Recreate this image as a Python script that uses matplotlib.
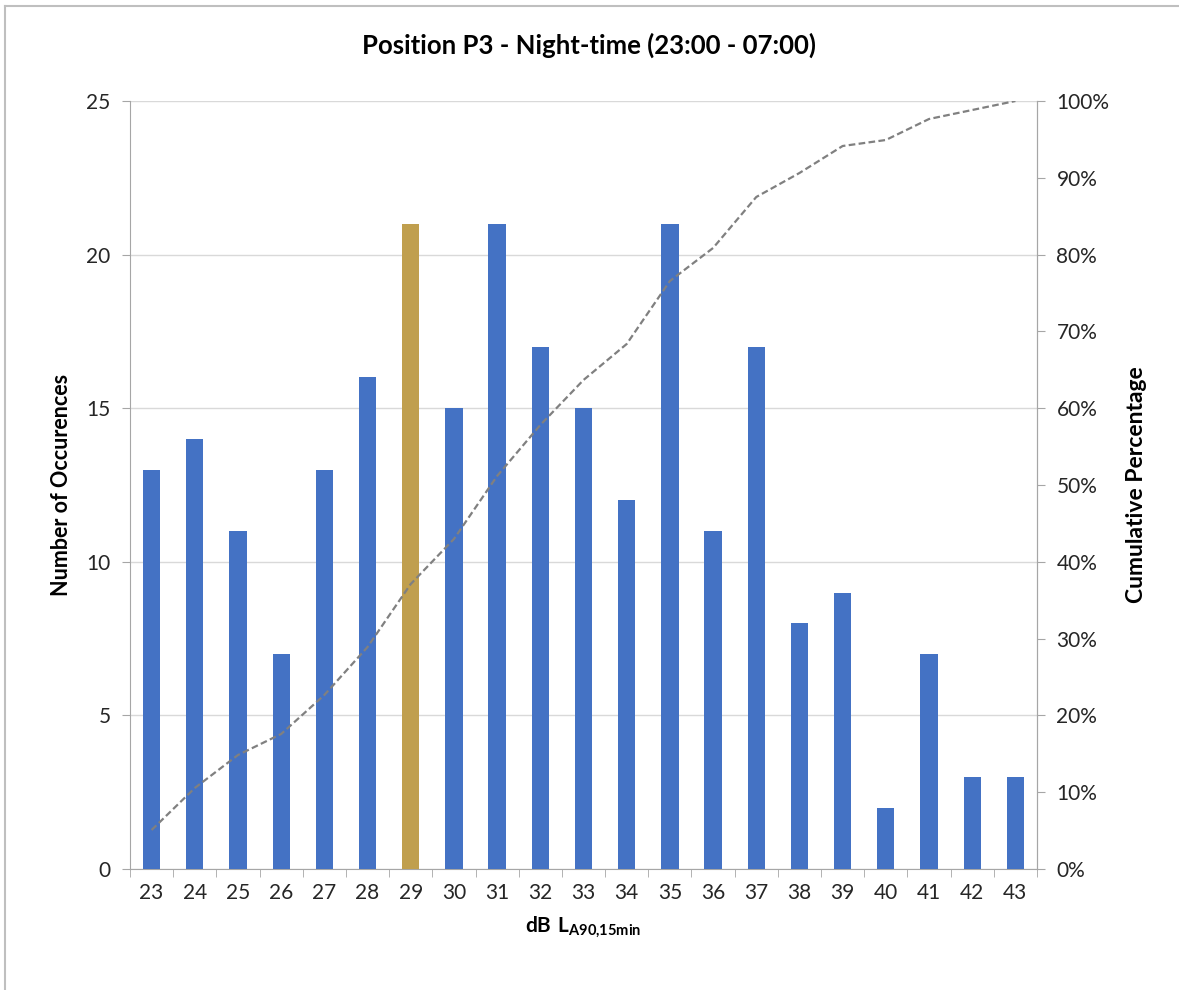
import numpy as np
import matplotlib.pyplot as plt
from matplotlib.lines import Line2D
from matplotlib.ticker import FixedLocator, PercentFormatter

plt.rcParams["font.family"] = ["Lato", "DejaVu Sans"]
plt.rcParams["mathtext.fontset"] = "custom"
plt.rcParams["mathtext.rm"] = "Lato"
plt.rcParams["mathtext.bf"] = "Lato:bold"

levels = list(range(23, 44))
occurrences = [13, 14, 11, 7, 13, 16, 21, 15, 21, 17, 15, 12, 21, 11, 17, 8, 9, 2, 7, 3, 3]
highlight = 29  # median band shown in gold

blue = "#4472C4"
gold = "#C09F4E"

cum_pct = np.cumsum(occurrences) / np.sum(occurrences) * 100

W, H = 1179, 990
fig = plt.figure(figsize=(W / 100, H / 100), dpi=100)
ax = fig.add_axes([130 / W, 1 - 869 / H, (1037 - 130) / W, (869 - 101) / H])

x = np.arange(len(levels))
colors = [gold if lv == highlight else blue for lv in levels]
ax.bar(x, occurrences, width=0.4, color=colors, zorder=3)

ax.set_xlim(-0.5, len(levels) - 0.5)
ax.set_ylim(0, 25)
ax.set_yticks(range(0, 26, 5))
ax.yaxis.grid(True, color="#D9D9D9", linewidth=1, zorder=0)
ax.set_axisbelow(True)

ax.set_xticks(x)
ax.set_xticklabels([str(lv) for lv in levels])
ax.xaxis.set_minor_locator(FixedLocator(np.arange(-0.5, len(levels), 1)))
ax.tick_params(axis="x", which="major", length=0, pad=10, labelsize=15, labelcolor="#262626")
ax.tick_params(axis="x", which="minor", length=6, color="#A6A6A6", direction="out")
ax.tick_params(axis="y", length=6, color="#A6A6A6", direction="out", pad=8,
               labelsize=15, labelcolor="#262626")

ax.spines["top"].set_visible(False)
for side in ["left", "right", "bottom"]:
    ax.spines[side].set_color("#A6A6A6")

ax.set_ylabel("Number of Occurences", fontsize=15.5, fontweight="bold", labelpad=10)
ax.set_xlabel(r"$\mathbf{dB\ L_{A90{,}15min}}$", fontsize=15, labelpad=8)

ax2 = ax.twinx()
ax2.plot(x, cum_pct, linestyle=(0, (3, 1.5)), color="#808080", linewidth=1.6, zorder=4)
ax2.set_ylim(0, 100)
ax2.set_yticks(range(0, 101, 10))
ax2.yaxis.set_major_formatter(PercentFormatter(decimals=0))
ax2.tick_params(axis="y", length=6, color="#A6A6A6", direction="out", pad=8,
                labelsize=15, labelcolor="#262626")
for side in ["top", "left", "bottom"]:
    ax2.spines[side].set_visible(False)
ax2.spines["right"].set_color("#A6A6A6")
ax2.set_ylabel("Cumulative Percentage", fontsize=16.5, fontweight="bold", labelpad=12)

fig.text(0.5, 1 - 45 / H, "Position P3 - Night-time (23:00 - 07:00)",
         ha="center", va="center", fontsize=18.5, fontweight="bold")

# partial chart border (top and left edges)
fig.add_artist(Line2D([5 / W, 1], [1 - 6 / H, 1 - 6 / H], color="#BFBFBF", linewidth=1.5))
fig.add_artist(Line2D([5 / W, 5 / W], [0, 1 - 6 / H], color="#BFBFBF", linewidth=1.5))

fig.savefig("out.png", dpi=100)
